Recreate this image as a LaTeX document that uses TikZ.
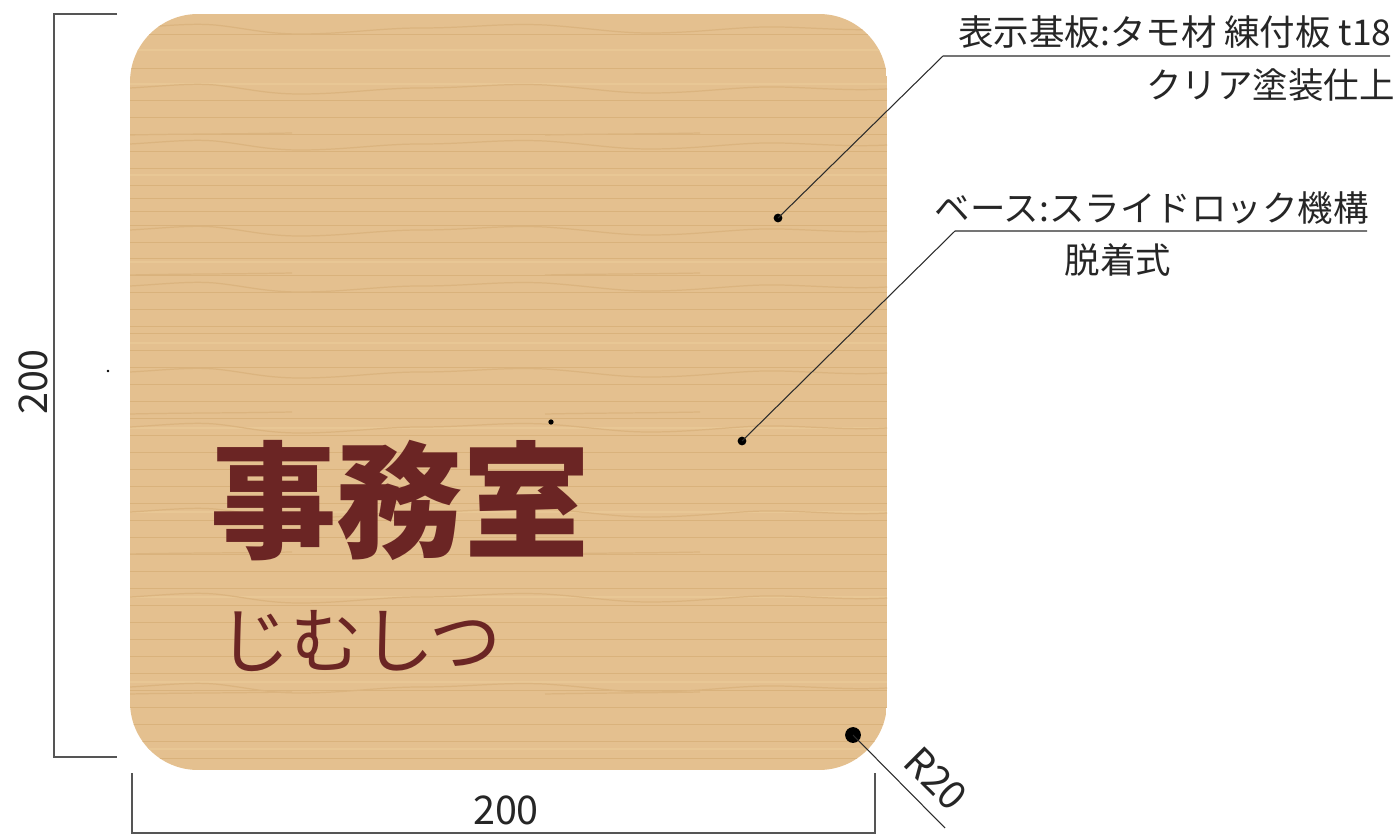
\documentclass[tikz,border=0pt]{standalone}
\usepackage{fontspec}
\setmainfont{Noto Sans CJK JP}
\definecolor{woodbase}{HTML}{E4C08F}
\definecolor{woodline}{HTML}{D9B27C}
\definecolor{woodpale}{HTML}{E8C795}
\definecolor{signtext}{HTML}{6B2524}
\definecolor{leadcol}{HTML}{2B2B2B}
\definecolor{dimcol}{HTML}{555555}
\begin{document}
\begin{tikzpicture}[
  x=0.02cm, y=-0.02cm,
  note/.style={inner sep=0pt, font=\fontsize{20.2}{24}\selectfont, text=black!85},
  dimtext/.style={inner sep=0pt, font=\fontsize{22.5}{26}\selectfont, text=black!85},
  dot/.style={circle, fill=black, inner sep=0pt, minimum size=#1},
  leader/.style={draw=leadcol, line width=0.6pt},
  dimline/.style={draw=dimcol, line width=0.6pt},
  grain/.style={draw=woodline, line width=0.55pt},
  pale/.style={draw=woodpale, line width=0.9pt},
  wave/.style={draw=woodline!85!woodbase, line width=0.7pt}
]
\useasboundingbox (0,0) rectangle (1399,834);

% board
\begin{scope}
\clip[rounded corners=1.36cm] (130,14) rectangle (887,770);
\fill[woodbase] (130,14) rectangle (887,770);
\foreach \gy in {34,68,100,117,134,151,168,185,198,211,225,242,258,275,292,309,326,333,350,367,384,401,418,435,452,469,486,503,520,537,554,571,588,605,622,639,656,673,690,707,724,741,758}
  \draw[grain] (130,\gy) -- (887,\gy);
\foreach \gy in {50,84,175,262,343,428,512,597,682,749}
  \draw[pale] (130,\gy) -- (887,\gy);
\foreach \wy in {26,86,142,228,284,370,425,510,595,685}
  \draw[wave, shift={(0,\wy)}] (130,2) .. controls (165,0) and (190,-3) .. (215,-1)
    .. controls (245,2) and (265,8) .. (300,8)
    .. controls (345,8) and (380,2) .. (420,2)
    .. controls (470,2) and (500,-3) .. (545,-1)
    .. controls (590,2) and (615,7) .. (650,7)
    .. controls (700,7) and (740,0) .. (780,1)
    .. controls (820,2) and (850,5) .. (887,3);
\foreach \wy in {133,273,412,552,692}
  \draw[wave, shift={(0,\wy)}] (130,2) .. controls (170,1) and (240,1) .. (292,0)
    (545,2) .. controls (590,1) and (650,1) .. (700,0);
\end{scope}

% sign text
\node[inner sep=0pt, anchor=center, text=signtext, font=\fontsize{72}{80}\selectfont\bfseries] (title) at (400,501) {事務室};
\node[inner sep=0pt, anchor=center, text=signtext, font=\fontsize{41}{48}\selectfont] (kana) at (360,641) {じむしつ};

% notes
\node[note, anchor=east] (top) at (1392,32) {表示基板:タモ材 練付板 t18};
\node[note, anchor=east] (finish) at (1395,85) {クリア塗装仕上};
\node[note, anchor=east] (base) at (1369,208) {ベース:スライドロック機構};
\node[note] (detach) at (1118,260) {脱着式};

% leaders
\node[dot=5pt] (dotA) at (778,218) {};
\node[dot=5pt] (dotB) at (742,441) {};
\node[dot=9pt] (dotC) at (853,735) {};
\coordinate (bendA) at (943,56);
\coordinate (endA) at (1390,56);
\coordinate (bendB) at (955,231);
\coordinate (endB) at (1367,231);
\coordinate (endC) at (945,828);
\draw[leader] (dotA.center) -- (bendA) -- (endA);
\draw[leader] (dotB.center) -- (bendB) -- (endB);
\draw[leader] (dotC.center) -- (endC);
\node[dimtext, rotate=-45] (radius) at (936,779) {R20};

% dimensions
\coordinate (lefttop) at (54,14);
\coordinate (leftbot) at (54,757);
\coordinate (tickt) at (117,14);
\coordinate (tickb) at (117,757);
\draw[dimline] (tickt) -- (lefttop) -- (leftbot) -- (tickb);
\node[dimtext, rotate=90] (height) at (33,382) {200};
\coordinate (botleft) at (132,833);
\coordinate (botright) at (875,833);
\coordinate (tickl) at (132,773);
\coordinate (tickr) at (875,773);
\draw[dimline] (tickl) -- (botleft) -- (botright) -- (tickr);
\node[dimtext] (width) at (506,810) {200};

% specks
\node[dot=3pt] (speckA) at (551,422) {};
\node[dot=1.5pt] (speckB) at (108,371) {};
\end{tikzpicture}
\end{document}
